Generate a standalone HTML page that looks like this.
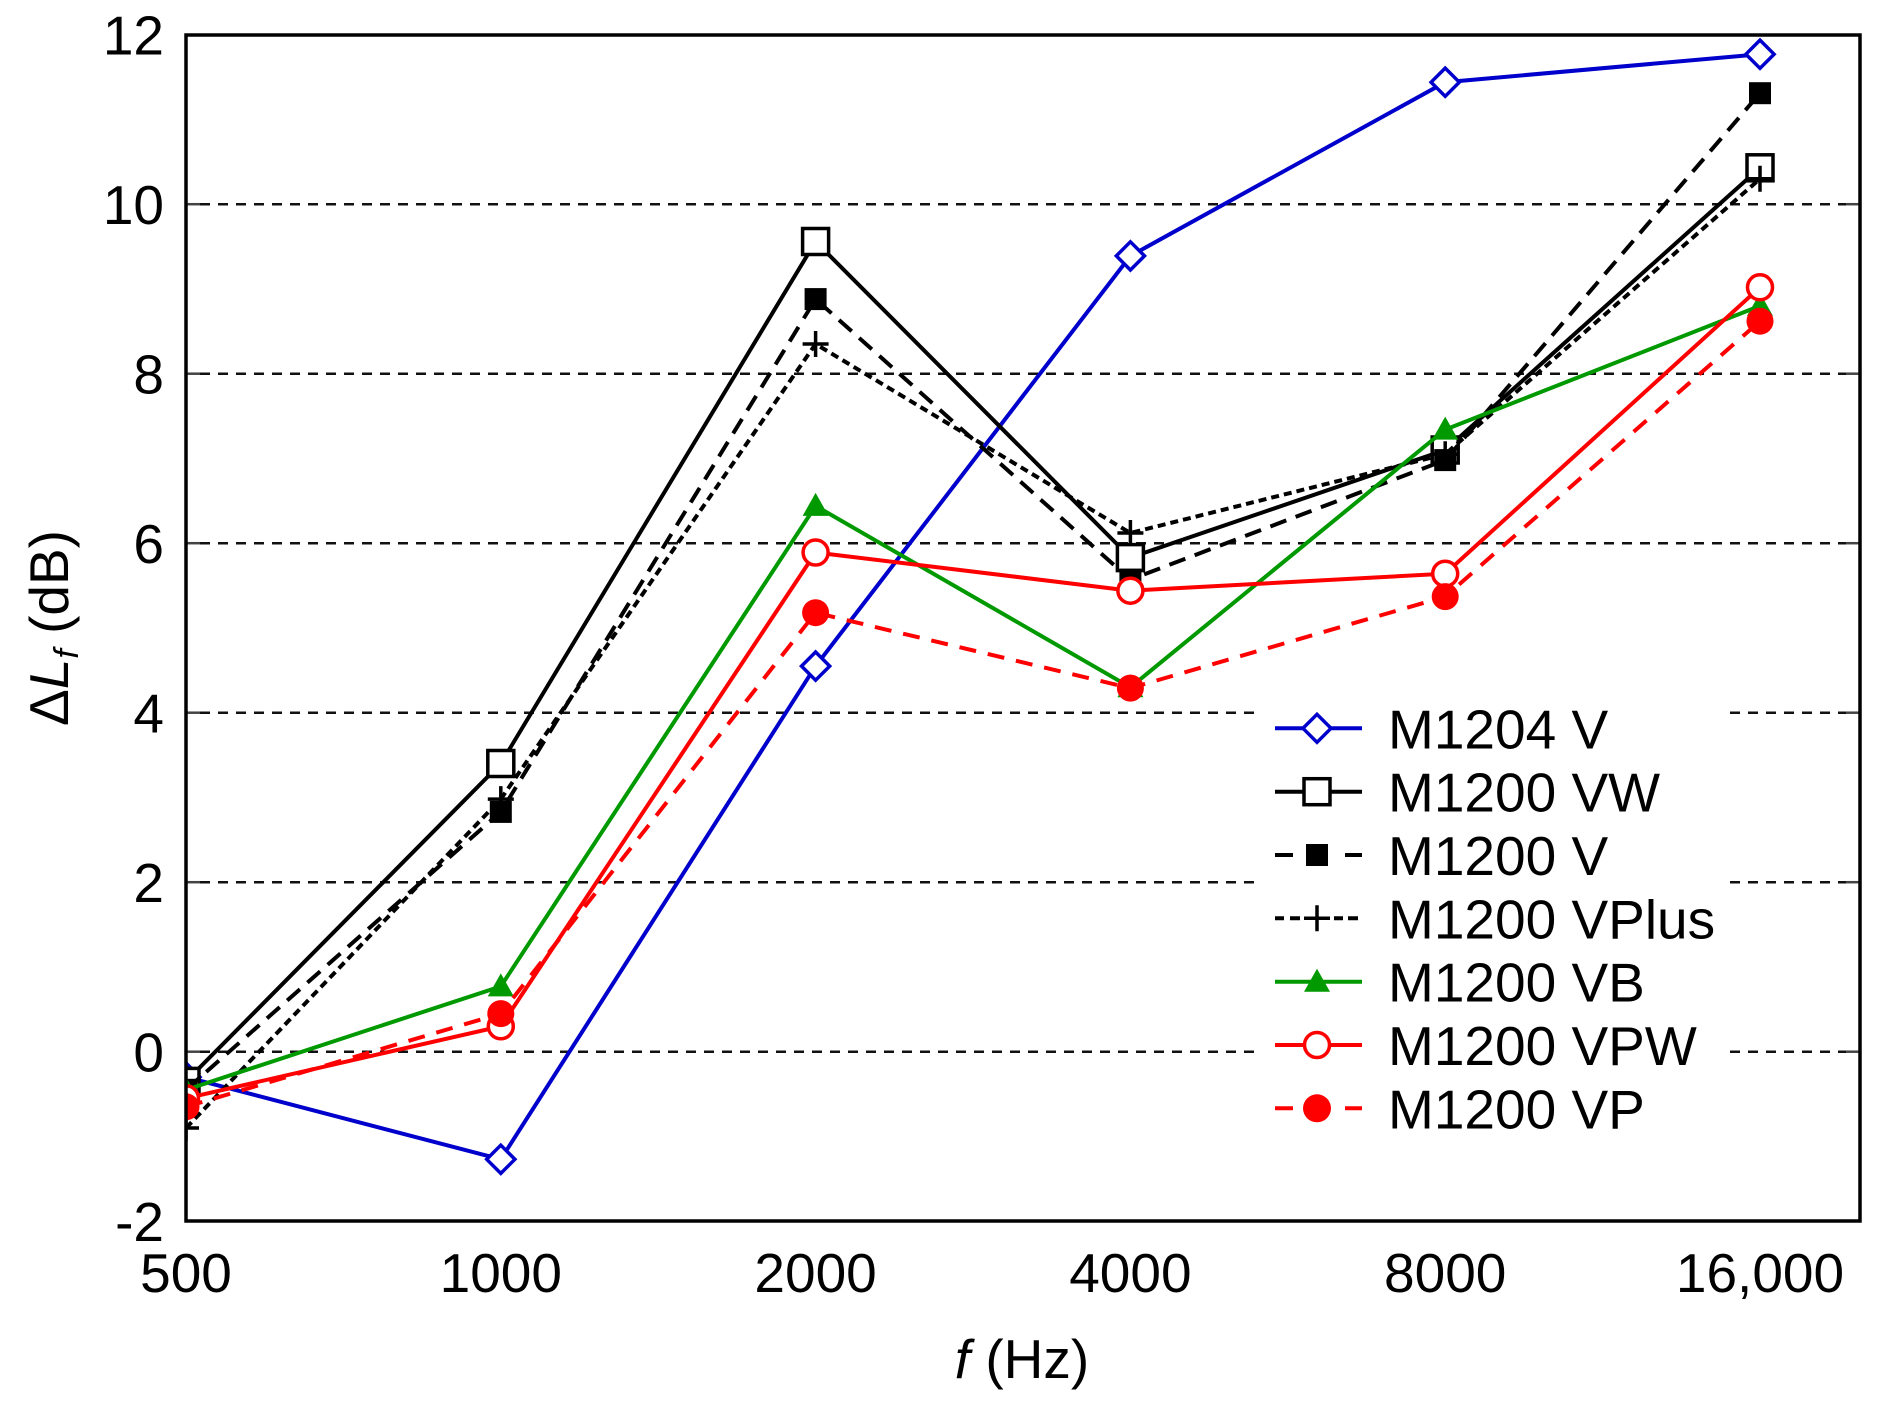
<!DOCTYPE html>
<html>
<head>
<meta charset="utf-8">
<style>
html,body{margin:0;padding:0;background:#fff;}
svg{display:block;}
text{font-family:"Liberation Sans",Arial,sans-serif;fill:#000;}
</style>
</head>
<body>
<svg width="1885" height="1402" viewBox="0 0 1885 1402" xmlns="http://www.w3.org/2000/svg">
<defs>
<clipPath id="pa"><rect x="186" y="35" width="1674" height="1186"/></clipPath>
</defs>
<rect x="0" y="0" width="1885" height="1402" fill="#fff"/>

<!-- gridlines -->
<g stroke="#111" stroke-width="2.5" stroke-dasharray="10 8">
<line x1="200" y1="204.2" x2="1846" y2="204.2"/>
<line x1="200" y1="373.7" x2="1846" y2="373.7"/>
<line x1="200" y1="543.2" x2="1846" y2="543.2"/>
<line x1="200" y1="712.7" x2="1846" y2="712.7"/>
<line x1="200" y1="882.2" x2="1846" y2="882.2"/>
<line x1="200" y1="1051.7" x2="1846" y2="1051.7"/>
</g>
<!-- ticks -->
<g stroke="#444" stroke-width="2.5">
<line x1="186" y1="204.2" x2="200" y2="204.2"/><line x1="1846" y1="204.2" x2="1860" y2="204.2"/>
<line x1="186" y1="373.7" x2="200" y2="373.7"/><line x1="1846" y1="373.7" x2="1860" y2="373.7"/>
<line x1="186" y1="543.2" x2="200" y2="543.2"/><line x1="1846" y1="543.2" x2="1860" y2="543.2"/>
<line x1="186" y1="712.7" x2="200" y2="712.7"/><line x1="1846" y1="712.7" x2="1860" y2="712.7"/>
<line x1="186" y1="882.2" x2="200" y2="882.2"/><line x1="1846" y1="882.2" x2="1860" y2="882.2"/>
<line x1="186" y1="1051.7" x2="200" y2="1051.7"/><line x1="1846" y1="1051.7" x2="1860" y2="1051.7"/>
</g>

<!-- legend background -->
<rect x="1262" y="690" width="468" height="462" fill="#fff"/>

<g clip-path="url(#pa)" fill="none" stroke-width="4" stroke-linejoin="miter">
<!-- M1204 V -->
<polyline stroke="#0000cc" points="186,1077.1 500.8,1159.3 815.6,666.1 1130.4,255.9 1445.2,82.2 1760,54.2"/>
<g stroke="#0000cc" fill="#fff" stroke-width="3.5">
<polygon points="186,1063 200,1077.1 186,1091.2 172,1077.1"/>
<polygon points="500.8,1145.2 514.9,1159.3 500.8,1173.4 486.7,1159.3"/>
<polygon points="815.6,652 829.7,666.1 815.6,680.2 801.5,666.1"/>
<polygon points="1130.4,241.8 1144.5,255.9 1130.4,270 1116.3,255.9"/>
<polygon points="1445.2,68.1 1459.3,82.2 1445.2,96.3 1431.1,82.2"/>
<polygon points="1760,40.1 1774.1,54.2 1760,68.3 1745.9,54.2"/>
</g>
<!-- M1200 VW -->
<polyline stroke="#000" points="186,1081.4 500.8,763.5 815.6,241.5 1130.4,557.6 1445.2,450 1760,167.8"/>
<g stroke="#000" fill="#fff" stroke-width="3.5">
<rect x="173" y="1068.4" width="26" height="26"/>
<rect x="487.8" y="750.5" width="26" height="26"/>
<rect x="802.6" y="228.5" width="26" height="26"/>
<rect x="1117.4" y="544.6" width="26" height="26"/>
<rect x="1432.2" y="437" width="26" height="26"/>
<rect x="1747" y="154.8" width="26" height="26"/>
</g>
<!-- M1200 V -->
<polyline stroke="#000" stroke-dasharray="17 10" points="186,1089.8 500.8,811.9 815.6,299.1 1130.4,579.6 1445.2,460.1 1760,93.2"/>
<g fill="#000" stroke="none">
<rect x="175" y="1078.8" width="22" height="22"/>
<rect x="489.8" y="800.9" width="22" height="22"/>
<rect x="804.6" y="288.1" width="22" height="22"/>
<rect x="1119.4" y="568.6" width="22" height="22"/>
<rect x="1434.2" y="449.1" width="22" height="22"/>
<rect x="1749" y="82.2" width="22" height="22"/>
</g>
<!-- M1200 VPlus -->
<polyline stroke="#000" stroke-dasharray="8 5" points="186,1128 500.8,799.1 815.6,344 1130.4,533 1445.2,454.2 1760,178.8"/>
<g stroke="#000" stroke-width="3.5">
<path d="M173,1128h26M186,1115v26"/>
<path d="M487.8,799.1h26M500.8,786.1v26"/>
<path d="M802.6,344h26M815.6,331v26"/>
<path d="M1117.4,533h26M1130.4,520v26"/>
<path d="M1432.2,454.2h26M1445.2,441.2v26"/>
<path d="M1747,178.8h26M1760,165.8v26"/>
</g>
<!-- M1200 VB -->
<polyline stroke="#009900" points="186,1089.8 500.8,986.4 815.6,505.9 1130.4,687.3 1445.2,429.6 1760,305.9"/>
<g fill="#009900" stroke="none">
<polygon points="186,1076.8 199,1099.8 173,1099.8"/>
<polygon points="500.8,973.4 513.8,996.4 487.8,996.4"/>
<polygon points="815.6,492.9 828.6,515.9 802.6,515.9"/>
<polygon points="1130.4,674.3 1143.4,697.3 1117.4,697.3"/>
<polygon points="1445.2,416.6 1458.2,439.6 1432.2,439.6"/>
<polygon points="1760,292.9 1773,315.9 1747,315.9"/>
</g>
<!-- M1200 VPW -->
<polyline stroke="#ff0000" points="186,1098.3 500.8,1026.3 815.6,552.5 1130.4,590.7 1445.2,573.7 1760,287.3"/>
<g stroke="#ff0000" fill="#fff" stroke-width="3.5">
<circle cx="186" cy="1098.3" r="12.5"/>
<circle cx="500.8" cy="1026.3" r="12.5"/>
<circle cx="815.6" cy="552.5" r="12.5"/>
<circle cx="1130.4" cy="590.7" r="12.5"/>
<circle cx="1445.2" cy="573.7" r="12.5"/>
<circle cx="1760" cy="287.3" r="12.5"/>
</g>
<!-- M1200 VP -->
<polyline stroke="#ff0000" stroke-dasharray="17 12" points="186,1106.8 500.8,1013.6 815.6,612.7 1130.4,688.1 1445.2,596.6 1760,321.2"/>
<g fill="#ff0000" stroke="none">
<circle cx="186" cy="1106.8" r="13.5"/>
<circle cx="500.8" cy="1013.6" r="13.5"/>
<circle cx="815.6" cy="612.7" r="13.5"/>
<circle cx="1130.4" cy="688.1" r="13.5"/>
<circle cx="1445.2" cy="596.6" r="13.5"/>
<circle cx="1760" cy="321.2" r="13.5"/>
</g>
</g>

<!-- frame -->
<rect x="186" y="35" width="1674" height="1186" fill="none" stroke="#000" stroke-width="3.5"/>

<!-- y tick labels -->
<g font-size="55" text-anchor="end">
<text x="164" y="54.7">12</text>
<text x="164" y="224.2">10</text>
<text x="164" y="393.7">8</text>
<text x="164" y="563.2">6</text>
<text x="164" y="732.7">4</text>
<text x="164" y="902.2">2</text>
<text x="164" y="1071.7">0</text>
<text x="164" y="1241.2">-2</text>
</g>
<!-- x tick labels -->
<g font-size="55" text-anchor="middle">
<text x="186" y="1292">500</text>
<text x="500.8" y="1292">1000</text>
<text x="815.6" y="1292">2000</text>
<text x="1130.4" y="1292">4000</text>
<text x="1445.2" y="1292">8000</text>
<text x="1760" y="1292">16,000</text>
</g>

<!-- axis titles -->
<text x="1022" y="1378" font-size="55" text-anchor="middle"><tspan font-style="italic">f</tspan> (Hz)</text>
<text transform="translate(68,628) rotate(-90)" font-size="55" text-anchor="middle">Δ<tspan font-style="italic">L</tspan><tspan font-style="italic" font-size="34" dy="10">f</tspan><tspan dy="-10"> (dB)</tspan></text>

<!-- legend -->
<g font-size="55">
<text x="1388" y="748.3">M1204 V</text>
<text x="1388" y="811.7">M1200 VW</text>
<text x="1388" y="875">M1200 V</text>
<text x="1388" y="938.3">M1200 VPlus</text>
<text x="1388" y="1001.7">M1200 VB</text>
<text x="1388" y="1065">M1200 VPW</text>
<text x="1388" y="1128.3">M1200 VP</text>
</g>
<g stroke-width="4" fill="none">
<line x1="1275" y1="728.3" x2="1362" y2="728.3" stroke="#0000cc"/>
<polygon points="1317,714.3 1331,728.3 1317,742.3 1303,728.3" stroke="#0000cc" stroke-width="3.5" fill="#fff"/>

<line x1="1275" y1="791.7" x2="1362" y2="791.7" stroke="#000"/>
<rect x="1304" y="778.7" width="26" height="26" stroke="#000" stroke-width="3.5" fill="#fff"/>

<line x1="1275" y1="855" x2="1293" y2="855" stroke="#000"/>
<line x1="1345" y1="855" x2="1362" y2="855" stroke="#000"/>
<rect x="1306" y="844" width="22" height="22" fill="#000" stroke="none"/>

<path d="M1275,918.3h9M1290,918.3h10M1334,918.3h9M1348,918.3h10" stroke="#000"/>
<path d="M1304,918.3h26M1317,905.3v26" stroke="#000" stroke-width="3.5"/>

<line x1="1275" y1="981.7" x2="1362" y2="981.7" stroke="#009900"/>
<polygon points="1317,968.7 1330,991.7 1304,991.7" fill="#009900" stroke="none"/>

<line x1="1275" y1="1045" x2="1362" y2="1045" stroke="#ff0000"/>
<circle cx="1317" cy="1045" r="12.5" stroke="#ff0000" stroke-width="3.5" fill="#fff"/>

<line x1="1275" y1="1108.3" x2="1293" y2="1108.3" stroke="#ff0000"/>
<line x1="1345" y1="1108.3" x2="1362" y2="1108.3" stroke="#ff0000"/>
<circle cx="1317" cy="1108.3" r="14" fill="#ff0000" stroke="none"/>
</g>
</svg>
</body>
</html>
